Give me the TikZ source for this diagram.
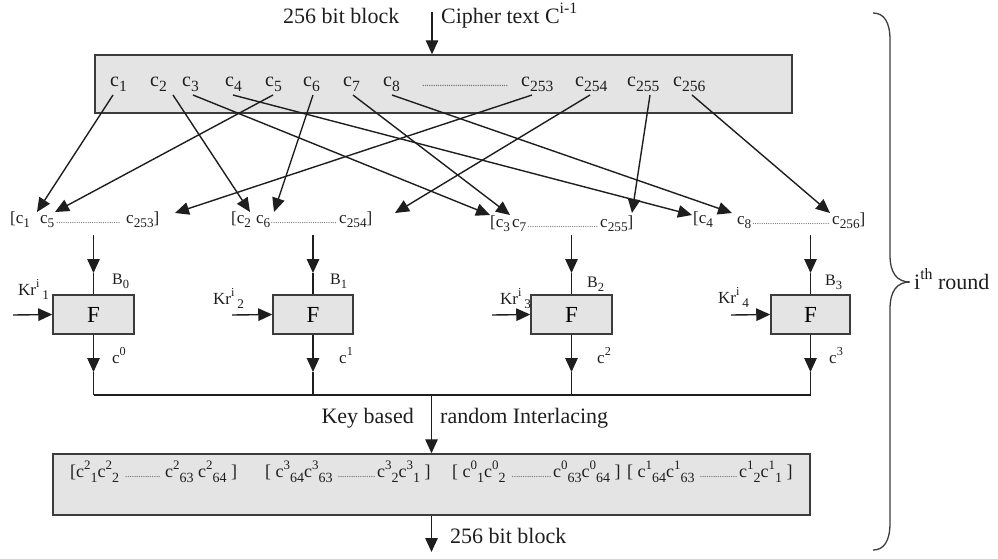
\documentclass[tikz,border=0pt]{standalone}
\usepackage{fontspec}
\setmainfont{Liberation Serif}
\usepackage{graphicx}
\usetikzlibrary{arrows.meta}
\newcommand\fs[1]{\fontsize{#1}{#1}\selectfont}
\newcommand\lowr[1]{\raisebox{-0.28em}{\scalebox{0.78}{#1}}}
\newcommand\highr[1]{\raisebox{0.42em}{\scalebox{0.72}{#1}}}
\newcommand\dotrun[1]{{\color{black!55}\leaders\hbox to 2.2pt{\hss\scalebox{0.6}{.}\hss}\hskip#1\relax}}
\definecolor{boxfill}{HTML}{E4E4E4}
\definecolor{boxline}{HTML}{3C3C3C}
\definecolor{ink}{HTML}{1E1E1E}
\begin{document}
\begin{tikzpicture}[x=1pt,y=-1pt,
  box/.style={draw=boxline, fill=boxfill, line width=1.5pt, inner sep=0pt},
  wire/.style={draw=ink, line width=1.4pt},
  arr/.style={wire, -{Triangle[length=14pt,width=12.5pt]}},
  lbl/.style={inner sep=0pt, text=ink},
  big/.style={lbl, font=\fs{22}},
  cell/.style={lbl, anchor=base west, font=\fs{20}},
  grp/.style={lbl, anchor=base west, font=\fs{17}},
  small/.style={lbl, anchor=base west, font=\fs{17}},
  seq/.style={lbl, anchor=base west, font=\fs{18}}]
\useasboundingbox (0,0) rectangle (998,558);

% ---------- input block ----------
\node[box, minimum width=697pt, minimum height=58pt] (topbox) at (443.5,84) {};
\coordinate (tin) at (432,12);
\draw[arr] (tin) -- (tin |- topbox.north);
\node[big, anchor=base west] (lblin) at (283,23) {256 bit block};
\node[big, anchor=base west] (lblct) at (441,23) {Cipher text C\highr{i-1}};

\node[cell] (c1) at (110,86) {c\lowr{1}};
\node[cell] (c2) at (150,86) {c\lowr{2}};
\node[cell] (c3) at (182,86) {c\lowr{3}};
\node[cell] (c4) at (225,86) {c\lowr{4}};
\node[cell] (c5) at (265,86) {c\lowr{5}};
\node[cell] (c6) at (303,86) {c\lowr{6}};
\node[cell] (c7) at (343,86) {c\lowr{7}};
\node[cell] (c8) at (383,86) {c\lowr{8}};
\node[cell] (cdots) at (422,86) {\dotrun{86pt}};
\node[cell] (c253) at (521,86) {c\lowr{253}};
\node[cell] (c254) at (575,86) {c\lowr{254}};
\node[cell] (c255) at (627,86) {c\lowr{255}};
\node[cell] (c256) at (673,86) {c\lowr{256}};

% ---------- split into four groups ----------
\node[grp] (g1) at (10,223) {[c\lowr{1}\hspace{10pt}c\lowr{5}\dotrun{66pt}\hspace{6pt}c\lowr{253}]};
\node[grp] (g2) at (231,223) {[c\lowr{2}\hspace{5pt}c\lowr{6}\dotrun{68pt}\hspace{1pt}c\lowr{254}]};
\node[grp] (g3) at (490,227) {[c\lowr{3}\hspace{2pt}c\lowr{7}\dotrun{72pt}\hspace{2pt}c\lowr{255}]};
\node[grp] (g4) at (693,223) {[c\lowr{4}\hspace{24pt}\raisebox{-1pt}{c\lowr{8}\dotrun{79pt}\hspace{2pt}c\lowr{256}]}};

\foreach \n/\sx/\ex/\ey in {1/113/37/212, 5/273/55/212, 253/532/175/213,
                            2/173/250/212, 6/313/274/212, 254/590/395/213,
                            3/193/490/215, 7/353/510/215, 255/650/632/213,
                            4/233/692/215, 8/392/732/213, 256/692/830/213}{
  \coordinate (s\n) at (\sx,95);
  \coordinate (e\n) at (\ex,\ey);
  \draw[arr] (s\n) -- (e\n);
}

% ---------- round functions ----------
\node[box, minimum width=81pt, minimum height=39pt, font=\fs{23}] (F1) at (93.5,314.5) {F};
\node[box, minimum width=80pt, minimum height=39pt, font=\fs{23}] (F2) at (313,314.5) {F};
\node[box, minimum width=81pt, minimum height=39pt, font=\fs{23}] (F3) at (571.5,314.5) {F};
\node[box, minimum width=79pt, minimum height=39pt, font=\fs{23}] (F4) at (810.5,314.5) {F};

\foreach \k/\kx in {1/13, 2/232, 3/492, 4/731}{
  \coordinate (a\k) at (F\k.north |- 0,235);
  \coordinate (m\k) at (F\k.north |- 0,273);
  \coordinate (o\k) at (F\k.south |- 0,372);
  \coordinate (b\k) at (F\k.south |- 0,395);
  \coordinate (k\k) at (\kx,315);
  \draw[arr] (a\k) -- (m\k);
  \draw[wire] (m\k) -- (F\k.north);
  \draw[arr] (F\k.south) -- (o\k);
  \draw[wire] (o\k) -- (b\k);
  \draw[arr] (k\k) -- (F\k.west);
}

\node[small] (kr1) at (18,295) {Kr\highr{i}\,\lowr{1}};
\node[small] (kr2) at (213,304) {Kr\highr{i}\,\lowr{2}};
\node[small] (kr3) at (500,304) {Kr\highr{i}\,\lowr{3}};
\node[small] (kr4) at (718,303) {Kr\highr{i}\,\lowr{4}};

\node[lbl, anchor=base west, font=\fs{16}] (B0) at (112,284) {B\lowr{0}};
\node[lbl, anchor=base west, font=\fs{16}] (B1) at (330,284) {B\lowr{1}};
\node[lbl, anchor=base west, font=\fs{16}] (B2) at (587,287) {B\lowr{2}};
\node[lbl, anchor=base west, font=\fs{16}] (B3) at (825,285) {B\lowr{3}};

\node[small] (o0) at (112,363) {c\highr{0}};
\node[small] (o1l) at (339,363) {c\highr{1}};
\node[small] (o2l) at (597,363) {c\highr{2}};
\node[small] (o3l) at (829,363) {c\highr{3}};

% ---------- interlacing ----------
\draw[wire] (b1) -- (b4);
\node[box, minimum width=757pt, minimum height=61pt] (botbox) at (431.5,484.5) {};
\coordinate (jb) at (botbox.north |- b1);
\draw[arr] (jb) -- (botbox.north);
\node[big, anchor=base east] (kb) at (414,423) {Key based};
\node[big, anchor=base west] (ri) at (440,423) {random Interlacing};

\node[seq] (q1) at (70,477) {[c\highr{2}\lowr{1}c\highr{2}\lowr{2} \dotrun{37pt} c\highr{2}\lowr{63} c\highr{2}\lowr{64} ]};
\node[seq] (q2) at (265,477) {[ c\highr{3}\lowr{64}c\highr{3}\lowr{63} \dotrun{40pt}c\highr{3}\lowr{2}c\highr{3}\lowr{1} ]};
\node[seq] (q3) at (452,477) {[ c\highr{0}\lowr{1}c\highr{0}\lowr{2} \dotrun{43pt}c\highr{0}\lowr{63}c\highr{0}\lowr{64} ]};
\node[seq] (q4) at (627,477) {[ c\highr{1}\lowr{64}c\highr{1}\lowr{63} \dotrun{40pt}c\highr{1}\lowr{2}c\highr{1}\lowr{1} ]};

\coordinate (tout) at (botbox.south |- 0,552);
\draw[arr] (botbox.south) -- (tout);
\node[big, anchor=base west] (lblout) at (450,543) {256 bit block};

% ---------- round brace ----------
\coordinate (bt) at (873,13);
\coordinate (bm) at (910,282);
\coordinate (bb) at (873,550);
\draw[draw=boxline, line width=1.3pt] (bt) .. controls (884,13) and (890,22) .. (890,40)
  -- (890,255) .. controls (890,273) and (897,282) .. (bm)
  .. controls (897,282) and (890,291) .. (890,309)
  -- (890,523) .. controls (890,541) and (884,550) .. (bb);
\node[big, anchor=base west] (rnd) at (914,289) {i\highr{th} round};
\end{tikzpicture}
\end{document}
